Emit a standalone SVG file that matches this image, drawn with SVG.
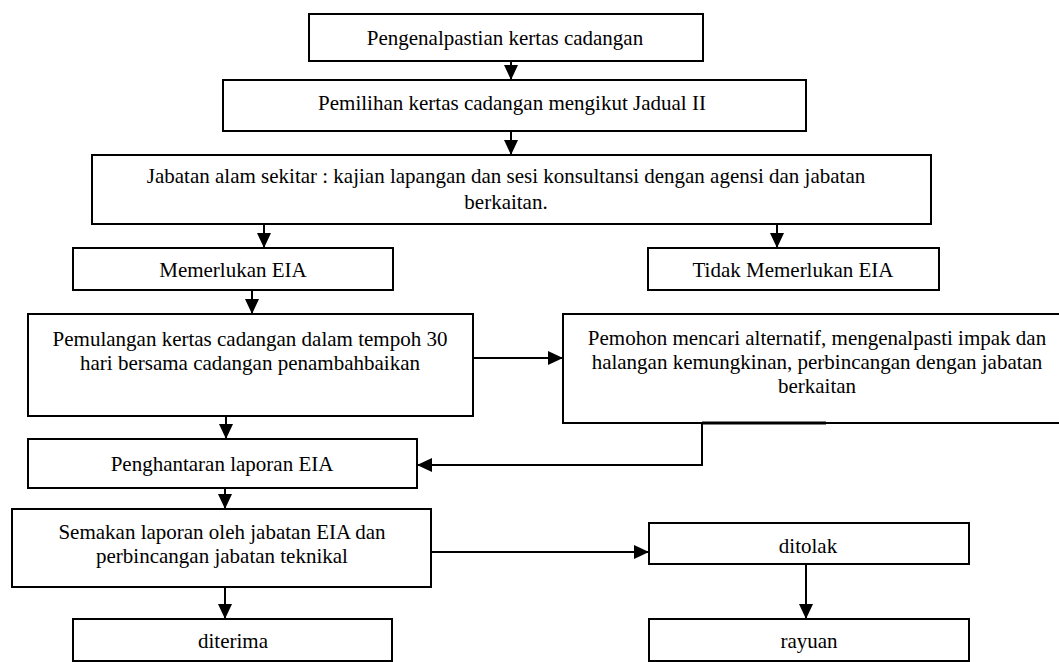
<svg xmlns="http://www.w3.org/2000/svg" width="1059" height="662" viewBox="0 0 1059 662">
<defs>
<style>
.box{fill:#fff;stroke:#000;stroke-width:2}
.t{font-family:"Liberation Serif","Times New Roman",serif;font-size:21px;fill:#000;text-anchor:middle}
.c{fill:none;stroke:#000;stroke-width:2}
</style>
<marker id="ah" viewBox="0 0 15 14" refX="15" refY="7" markerWidth="15" markerHeight="14" markerUnits="userSpaceOnUse" orient="auto">
<path d="M0,0 L15,7 L0,14 Z" fill="#000"/>
</marker>
</defs>
<rect width="1059" height="662" fill="#fff"/>
<g id="n1"><rect class="box" x="309" y="14" width="394" height="47"/><text class="t" x="505" y="45">Pengenalpastian kertas cadangan</text></g>
<g id="n2"><rect class="box" x="223" y="80" width="583" height="51"/><text class="t" x="512" y="110">Pemilihan kertas cadangan mengikut Jadual II</text></g>
<g id="n3"><rect class="box" x="92" y="155" width="839" height="69"/><text class="t" x="506" y="183">Jabatan alam sekitar : kajian lapangan dan sesi konsultansi dengan agensi dan jabatan</text><text class="t" x="506" y="209">berkaitan.</text></g>
<g id="n4"><rect class="box" x="73" y="248" width="320" height="42"/><text class="t" x="233" y="277">Memerlukan EIA</text></g>
<g id="n5"><rect class="box" x="648" y="248" width="291" height="42"/><text class="t" x="793" y="277">Tidak Memerlukan EIA</text></g>
<g id="n6"><rect class="box" x="28" y="314" width="445" height="102"/><text class="t" x="250" y="346">Pemulangan kertas cadangan dalam tempoh 30</text><text class="t" x="250" y="370">hari bersama cadangan penambahbaikan</text></g>
<g id="n7"><rect class="box" x="563" y="314" width="510" height="109"/><text class="t" x="817" y="345">Pemohon mencari alternatif, mengenalpasti impak dan</text><text class="t" x="817" y="369">halangan kemungkinan, perbincangan dengan jabatan</text><text class="t" x="817" y="393">berkaitan</text></g>
<g id="n8"><rect class="box" x="28" y="439" width="389" height="49"/><text class="t" x="222" y="471">Penghantaran laporan EIA</text></g>
<g id="n9"><rect class="box" x="12" y="509" width="419" height="78"/><text class="t" x="222" y="539">Semakan laporan oleh jabatan EIA dan</text><text class="t" x="222" y="563">perbincangan jabatan teknikal</text></g>
<g id="n10"><rect class="box" x="649" y="523" width="320" height="41"/><text class="t" x="808" y="553">ditolak</text></g>
<g id="n11"><rect class="box" x="73" y="619" width="319" height="42"/><text class="t" x="233" y="648">diterima</text></g>
<g id="n12"><rect class="box" x="649" y="619" width="320" height="42"/><text class="t" x="809" y="648">rayuan</text></g>
<g id="connectors">
<path class="c" d="M511,61 V80" marker-end="url(#ah)"/>
<path class="c" d="M511,131 V155" marker-end="url(#ah)"/>
<path class="c" d="M264,224 V248" marker-end="url(#ah)"/>
<path class="c" d="M777,224 V248" marker-end="url(#ah)"/>
<path class="c" d="M252,290 V314" marker-end="url(#ah)"/>
<path class="c" d="M473,358 H563" marker-end="url(#ah)"/>
<path class="c" d="M226,416 V439" marker-end="url(#ah)"/>
<path class="c" d="M702,423 V465 H417" marker-end="url(#ah)"/>
<path d="M702,423 H826" stroke="#000" stroke-width="3"/>
<path class="c" d="M225,488 V509" marker-end="url(#ah)"/>
<path class="c" d="M431,552 H649" marker-end="url(#ah)"/>
<path class="c" d="M225,587 V619" marker-end="url(#ah)"/>
<path class="c" d="M806,564 V619" marker-end="url(#ah)"/>
</g>
</svg>
